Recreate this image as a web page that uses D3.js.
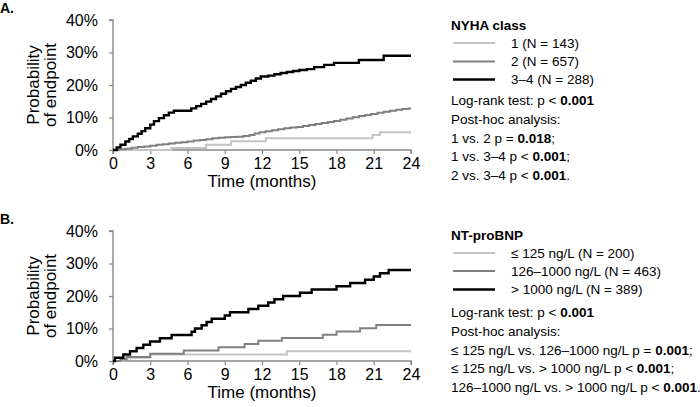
<!DOCTYPE html>
<html><head><meta charset="utf-8">
<script src="https://cdn.jsdelivr.net/npm/d3@7"></script>
<style>
html,body{margin:0;padding:0;background:#fff;}
svg{display:block;font-family:"Liberation Sans",Arial,sans-serif;}
</style></head>
<body><svg id="c" width="700" height="407"></svg>
<script>
// ---------- data ----------
const xTicks = [0, 3, 6, 9, 12, 15, 18, 21, 24];
const yTicks = [0, 10, 20, 30, 40];
const yTickLabels = ["0%", "10%", "20%", "30%", "40%"];

// Panel A – NYHA class (months, cumulative %)
const nyha1T = [0, 4.7, 7.5, 9.5, 12.3, 20.9, 21.5, 24];
const nyha1P = [0, 0.6, 1.6, 2.7, 3.6, 4.6, 5.5, 5.5];
const nyha2T = [0, 0.5, 1.0, 1.5, 2.0, 2.5, 3.0, 3.5, 4.0, 4.5, 5.0, 5.5, 6.0, 6.5, 7.0, 7.5, 8.0, 8.5, 9.0, 9.5, 10.0, 10.5, 11.0, 11.4, 11.8, 12.3, 12.8, 13.3, 13.8, 14.3, 14.8, 15.3, 15.8, 16.3, 16.8, 17.3, 17.8, 18.3, 18.8, 19.3, 19.8, 20.3, 20.8, 21.3, 21.8, 22.3, 22.8, 23.3, 23.8, 24];
const nyha2P = [0, 0.2, 0.4, 0.7, 0.9, 1.1, 1.3, 1.6, 1.8, 2.0, 2.2, 2.4, 2.6, 2.9, 3.1, 3.3, 3.6, 3.8, 3.9, 4.0, 4.1, 4.3, 4.6, 5.1, 5.5, 5.8, 6.1, 6.4, 6.7, 6.9, 7.1, 7.4, 7.7, 8.0, 8.3, 8.6, 8.9, 9.3, 9.7, 10.1, 10.5, 10.8, 11.1, 11.5, 11.8, 12.1, 12.4, 12.6, 12.8, 12.8];
const nyha34T = [0, 0.3, 0.6, 1.0, 1.3, 1.6, 2.0, 2.3, 2.6, 3.0, 3.3, 3.7, 4.1, 4.5, 4.9, 6.3, 6.7, 7.1, 7.5, 7.9, 8.3, 8.7, 9.1, 9.5, 9.9, 10.3, 10.7, 11.1, 11.5, 11.9, 12.5, 13.0, 13.5, 14.0, 14.5, 15.0, 15.6, 16.2, 17.0, 17.8, 19.8, 21.8, 24];
const nyha34P = [0, 0.8, 1.6, 2.6, 3.4, 4.2, 5.0, 5.8, 6.7, 7.8, 8.9, 9.8, 10.7, 11.5, 12.1, 12.8, 13.5, 14.2, 14.9, 15.7, 16.5, 17.3, 18.1, 18.8, 19.4, 20.0, 20.7, 21.3, 22.0, 22.6, 22.9, 23.3, 23.7, 24.0, 24.3, 24.6, 24.9, 25.5, 26.2, 26.8, 27.7, 29.0, 29.0];

// Panel B – NT-proBNP
const bnpLowT = [0, 1.0, 3.0, 14.0, 24];
const bnpLowP = [0, 1.0, 2.0, 3.0, 3.0];
const bnpMidT = [0, 0.6, 1.1, 3.0, 5.7, 8.5, 10.6, 11.7, 13.6, 16.9, 18.0, 19.9, 21.2, 24];
const bnpMidP = [0, 0.5, 1.2, 2.2, 3.2, 4.2, 5.2, 6.2, 7.1, 8.1, 9.1, 10.1, 11.1, 11.1];
const bnpHighT = [0, 0.16, 0.83, 1.37, 1.9, 2.44, 2.98, 3.78, 4.72, 6.33, 6.6, 7.14, 7.54, 7.95, 9.0, 9.42, 10.9, 11.7, 12.5, 13.0, 13.7, 15.06, 16.0, 18.0, 19.1, 20.3, 21.0, 21.5, 22.2, 24];
const bnpHighP = [0, 1, 2, 3, 4, 5, 6, 7, 8, 9, 10, 11, 12, 13, 14, 15, 16, 17, 18, 19, 20, 21, 22, 23, 24, 25, 26, 27, 28, 28];

const legendA = ["1 (N = 143)", "2 (N = 657)", "3\u20134 (N = 288)"];
const legendB = ["\u2264 125 ng/L (N = 200)", "126\u20131000 ng/L (N = 463)", "> 1000 ng/L (N = 389)"];
const statsA = [
  [["Log-rank test: p < ", false], ["0.001", true]],
  [["Post-hoc analysis:", false]],
  [["1 vs. 2 p = ", false], ["0.018", true], [";", false]],
  [["1 vs. 3\u20134 p < ", false], ["0.001", true], [";", false]],
  [["2 vs. 3\u20134 p < ", false], ["0.001", true], [".", false]]
];
const statsB = [
  [["Log-rank test: p < ", false], ["0.001", true]],
  [["Post-hoc analysis:", false]],
  [["\u2264 125 ng/L vs. 126\u20131000 ng/L p = ", false], ["0.001", true], [";", false]],
  [["\u2264 125 ng/L vs. > 1000 ng/L p < ", false], ["0.001", true], [";", false]],
  [["126\u20131000 ng/L vs. > 1000 ng/L p < ", false], ["0.001", true], [".", false]]
];

// ---------- drawing ----------
const colors = ["#c4c4c4", "#808080", "#000000"];
const widths = [2, 2, 2.4];
const svg = d3.select("#c");
const axisColor = "#888888";
const legFont = 13.5;

function panel(cfg) {
  const g = svg.append("g");
  const x = d3.scaleLinear().domain([0, 24]).range([113, 411]);
  const y = d3.scaleLinear().domain([0, 40]).range([cfg.y0, cfg.y0 - 130]);

  g.append("text").attr("x", 0).attr("y", cfg.y0 - 137).text(cfg.label)
    .attr("font-weight", "bold").attr("font-size", 14).attr("fill", "#000");

  const ya = g.append("g").attr("transform", "translate(113,0)")
    .call(d3.axisLeft(y).tickValues(yTicks).tickFormat((d, i) => yTickLabels[i]).tickSize(4).tickPadding(11));
  const xa = g.append("g").attr("transform", `translate(0,${cfg.y0})`)
    .call(d3.axisBottom(x).tickValues(xTicks).tickSize(4).tickPadding(4));
  [ya, xa].forEach(a => {
    a.select(".domain").attr("stroke", axisColor).attr("stroke-width", 1.4);
    a.selectAll(".tick line").attr("stroke", axisColor).attr("stroke-width", 1.2);
    a.selectAll("text").attr("font-size", 16).attr("fill", "#000")
      .attr("font-family", "'Liberation Sans', Arial, sans-serif");
  });
  ya.select(".domain").attr("d", `M-4,${y(40)}H0V${y(0)}`);
  xa.select(".domain").attr("d", `M${x(0)},4V0H${x(24)}V4`);

  g.append("text").attr("x", (x(0) + x(24)) / 2).attr("y", cfg.y0 + 37)
    .attr("text-anchor", "middle").attr("font-size", 17).text("Time (months)");
  const yt = g.append("text").attr("transform", `translate(0,${(y(0) + y(40)) / 2}) rotate(-90)`)
    .attr("text-anchor", "middle").attr("font-size", 17);
  yt.append("tspan").attr("x", 0).attr("y", 39).text("Probability");
  yt.append("tspan").attr("x", 0).attr("y", 56).text("of endpoint");

  const line = d3.line().x(d => x(d[0])).y(d => y(d[1])).curve(d3.curveStepAfter);
  cfg.series.forEach((s, i) => {
    const pts = s[0].map((t, j) => [t, s[1][j]]);
    g.append("path").attr("d", line(pts)).attr("fill", "none")
      .attr("stroke", colors[i]).attr("stroke-width", widths[i]);
  });

  const L = cfg.leg;
  g.append("text").attr("x", 451).attr("y", L.title).attr("font-size", legFont)
    .attr("font-weight", "bold").text(cfg.legTitle);
  cfg.legItems.forEach((t, i) => {
    const ly = L.rows[i];
    g.append("line").attr("x1", 453).attr("x2", 495).attr("y1", ly).attr("y2", ly)
      .attr("stroke", colors[i]).attr("stroke-width", i === 2 ? 2.6 : 2);
    g.append("text").attr("x", 511).attr("y", ly + 4.7).attr("font-size", legFont).text(t);
  });
  cfg.stats.forEach((row, i) => {
    const t = g.append("text").attr("x", 451).attr("y", L.stats + i * 18.8).attr("font-size", legFont);
    row.forEach(p => t.append("tspan").attr("font-weight", p[1] ? "bold" : "normal").text(p[0]));
  });
}

panel({
  label: "A.", y0: 150,
  series: [[nyha1T, nyha1P], [nyha2T, nyha2P], [nyha34T, nyha34P]],
  legTitle: "NYHA class", legItems: legendA, stats: statsA,
  leg: { title: 30, rows: [43, 61.5, 79.5], stats: 105 }
});
panel({
  label: "B.", y0: 361,
  series: [[bnpLowT, bnpLowP], [bnpMidT, bnpMidP], [bnpHighT, bnpHighP]],
  legTitle: "NT-proBNP", legItems: legendB, stats: statsB,
  leg: { title: 240, rows: [253, 271, 289.5], stats: 317 }
});
</script></body></html>
